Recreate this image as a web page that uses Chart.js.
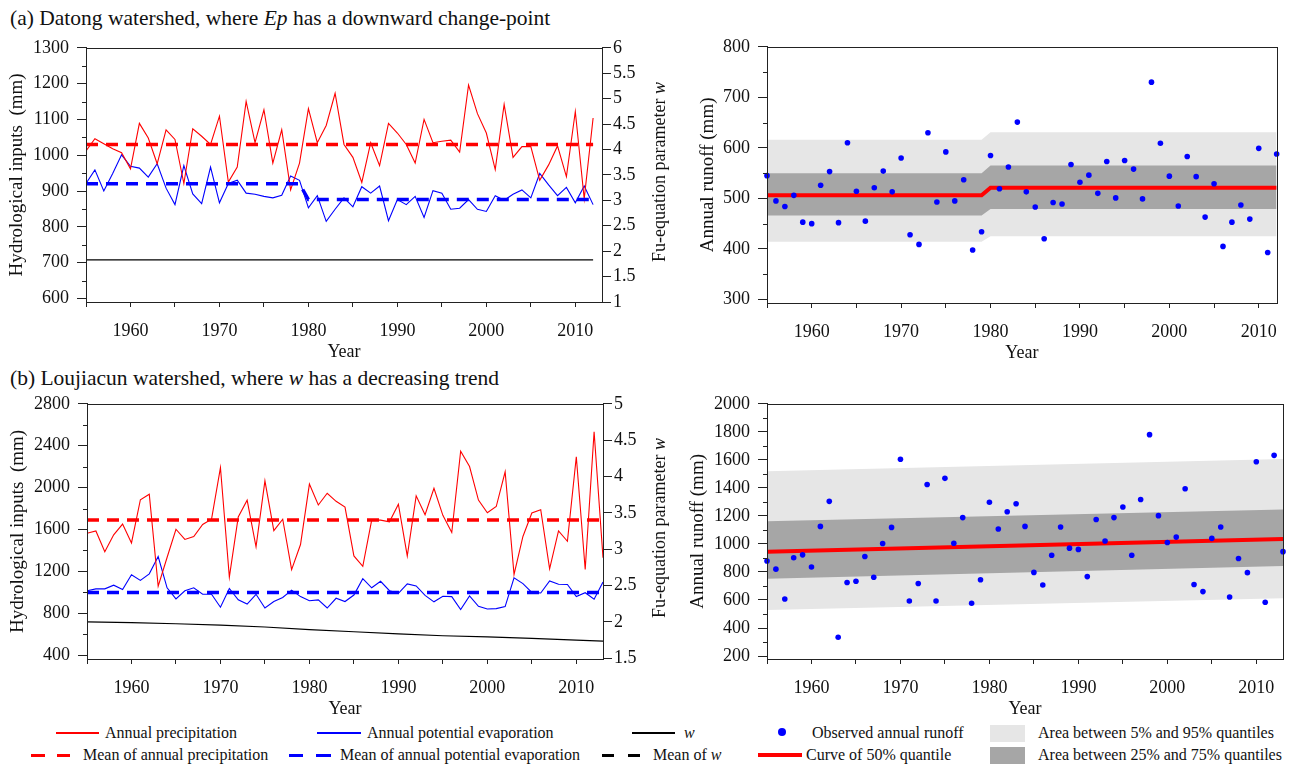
<!DOCTYPE html>
<html>
<head>
<meta charset="utf-8">
<script src="https://cdn.jsdelivr.net/npm/chart.js@4.4.0/dist/chart.umd.min.js"></script>
<style>
  body { margin: 0; width: 1290px; height: 767px; background: #fff; position: relative; overflow: hidden;
         font-family: 'Liberation Serif', 'Times New Roman', serif; color: #111; }
  canvas { position: absolute; }
  .ttl { position: absolute; font-size: 21.5px; line-height: 22px; white-space: nowrap; }
  .rt { position: absolute; font-size: 18px; line-height: 20px; white-space: nowrap; transform: translate(-50%, -50%) rotate(-90deg); }
  .lg { position: absolute; font-size: 16px; line-height: 18px; white-space: nowrap; }
  .mk { position: absolute; }
</style>
</head>
<body>

<div class="ttl" style="left:10px; top:7px;">(a) Datong watershed, where <i>Ep</i> has a downward change-point</div>
<div class="ttl" style="left:10px; top:366.5px;">(b) Loujiacun watershed, where <i>w</i> has a decreasing trend</div>

<canvas id="tl" width="650" height="334" style="left:0px; top:29px;"></canvas>
<canvas id="tr" width="610" height="336" style="left:680px; top:28px;"></canvas>
<canvas id="bl" width="651" height="335" style="left:0px; top:385px;"></canvas>
<canvas id="br" width="610" height="335" style="left:680px; top:385px;"></canvas>

<div class="rt" style="left:659px; top:172px;">Fu-equation parameter <i>w</i></div>
<div class="rt" style="left:659px; top:528px;">Fu-equation parameter <i>w</i></div>

<!-- legend -->
<div class="mk" style="left:56px; top:732px; width:43px; height:1.5px; background:#ff0000;"></div>
<div class="lg" style="left:105px; top:724px;">Annual precipitation</div>
<div class="mk" style="left:317px; top:732px; width:44px; height:1.5px; background:#0000ff;"></div>
<div class="lg" style="left:367px; top:724px;">Annual potential evaporation</div>
<div class="mk" style="left:632px; top:732px; width:43px; height:1.5px; background:#000;"></div>
<div class="lg" style="left:684px; top:724px;"><i>w</i></div>
<div class="mk" style="left:778px; top:728px; width:8px; height:8px; border-radius:50%; background:#0000ff;"></div>
<div class="lg" style="left:812px; top:724px;">Observed annual runoff</div>
<div class="mk" style="left:990px; top:725px; width:35px; height:17px; background:#e6e6e6;"></div>
<div class="lg" style="left:1038px; top:724px;">Area between 5% and 95% quantiles</div>

<div class="mk" style="left:31px; top:754px; width:14px; height:3px; background:#ff0000;"></div>
<div class="mk" style="left:57px; top:754px; width:13px; height:3px; background:#ff0000;"></div>
<div class="lg" style="left:83px; top:746px;">Mean of annual precipitation</div>
<div class="mk" style="left:289px; top:754px; width:14px; height:3px; background:#0000ff;"></div>
<div class="mk" style="left:316px; top:754px; width:15px; height:3px; background:#0000ff;"></div>
<div class="lg" style="left:340px; top:746px;">Mean of annual potential evaporation</div>
<div class="mk" style="left:602px; top:754px; width:12px; height:3px; background:#000;"></div>
<div class="mk" style="left:628px; top:754px; width:12px; height:3px; background:#000;"></div>
<div class="lg" style="left:653px; top:746px;">Mean of <i>w</i></div>
<div class="mk" style="left:758px; top:753px; width:44px; height:4px; background:#ff0000;"></div>
<div class="lg" style="left:806px; top:746px;">Curve of 50% quantile</div>
<div class="mk" style="left:990px; top:747px; width:35px; height:17px; background:#a6a6a6;"></div>
<div class="lg" style="left:1038px; top:746px;">Area between 25% and 75% quantiles</div>

<script>
// ---- data, (a) Datong ----
const yearsA = [1955, 1956, 1957, 1958, 1959, 1960, 1961, 1962, 1963, 1964,
  1965, 1966, 1967, 1968, 1969, 1970, 1971, 1972, 1973, 1974,
  1975, 1976, 1977, 1978, 1979, 1980, 1981, 1982, 1983, 1984,
  1985, 1986, 1987, 1988, 1989, 1990, 1991, 1992, 1993, 1994,
  1995, 1996, 1997, 1998, 1999, 2000, 2001, 2002, 2003, 2004,
  2005, 2006, 2007, 2008, 2009, 2010, 2011, 2012];
const precipA = [1012, 1046, 1032, 1018, 1007, 962, 1089, 1048, 976, 1071,
  1044, 921, 1074, 1053, 1030, 1109, 925, 967, 1150, 1035,
  1127, 978, 1071, 903, 978, 1130, 1035, 1083, 1173, 1030,
  994, 924, 1035, 971, 1089, 1062, 1030, 978, 1100, 1035,
  1039, 1042, 1009, 1196, 1116, 1062, 960, 1142, 994, 1024,
  1024, 930, 973, 1026, 940, 1122, 878, 1104];
const epA = [921, 959, 900, 949, 1001, 969, 964, 939, 976, 908,
  862, 971, 892, 865, 967, 867, 921, 930, 894, 891,
  885, 881, 888, 942, 930, 853, 887, 815, 849, 881,
  856, 912, 894, 914, 817, 876, 862, 885, 826, 901,
  894, 849, 852, 876, 849, 843, 887, 874, 891, 903,
  881, 949, 917, 887, 910, 867, 914, 862];
const precipMeanYearsA = [1955, 2012];
const precipMeanA = [1030, 1030];
const epMeanYearsA = [1955, 1979, 1980, 2012];
const epMeanA = [920, 920, 876, 876];
const wYearsA = [1955, 2012];
const wA = [1.83, 1.83];

const runoffA = [545, 495, 484, 506, 453, 450, 526, 553, 452, 610,
  514, 455, 521, 554, 513, 580, 428, 409, 630, 493,
  592, 495, 537, 398, 434, 585, 519, 562, 651, 513,
  483, 420, 492, 489, 567, 532, 546, 510, 573, 501,
  575, 558, 499, 730, 609, 544, 485, 583, 543, 463,
  529, 405, 453, 487, 459, 599, 393, 588];
const qYearsA = [1955, 1979, 1980, 2012];
const q05A = [414, 414, 425, 425];
const q25A = [466, 466, 479, 479];
const q50A = [506, 506, 521, 521];
const q75A = [550, 550, 565, 565];
const q95A = [616, 616, 631, 631];

// ---- data, (b) Loujiacun ----
const yearsB = [...yearsA, 2013];
const precipB = [1564, 1586, 1387, 1549, 1651, 1471, 1884, 1937, 1058, 1332,
  1602, 1505, 1533, 1648, 1698, 2191, 1145, 1720, 1880, 1434,
  2064, 1589, 1698, 1217, 1456, 2033, 1834, 1946, 1869, 1813,
  1347, 1248, 1689, 1689, 1673, 1841, 1347, 1921, 1741, 1993,
  1735, 1571, 2347, 2201, 1881, 1760, 1819, 2151, 1170, 1533,
  1757, 1788, 1223, 1586, 1487, 2294, 1217, 2533, 1330];
const epB = [1015, 1033, 1033, 1068, 1027, 1167, 1114, 1176, 1341, 1043,
  937, 1015, 1043, 981, 981, 857, 1037, 928, 888, 981,
  850, 912, 950, 1021, 959, 919, 928, 850, 943, 912,
  974, 1130, 1043, 1105, 1015, 990, 1080, 1061, 971, 909,
  962, 959, 835, 965, 866, 841, 844, 863, 1139, 1083,
  999, 993, 1108, 1077, 1074, 959, 996, 934, 1099];
const meanYearsB = [1955, 2013];
const precipMeanB = [1690, 1690];
const epMeanB = [997, 997];
const wYearsB = [1955, 1960, 1965, 1970, 1975, 1980, 1985, 1990, 1995, 2000, 2005, 2010, 2013];
const wB = [2.0, 1.99, 1.975, 1.955, 1.93, 1.895, 1.865, 1.835, 1.81, 1.795, 1.775, 1.75, 1.735];

const runoffB = [878, 820, 607, 901, 922, 836, 1125, 1304, 334, 725,
  734, 910, 762, 1003, 1118, 1604, 593, 718, 1424, 593,
  1468, 1005, 1188, 577, 744, 1297, 1107, 1230, 1287, 1125,
  797, 707, 919, 1121, 970, 961, 767, 1174, 1021, 1188,
  1264, 919, 1317, 1780, 1202, 1010, 1049, 1394, 711, 660,
  1040, 1121, 621, 896, 795, 1586, 584, 1632, 945];
const qYearsB = [1955, 2013];
const q05B = [528, 612];
const q25B = [751, 843];
const q50B = [945, 1035];
const q75B = [1162, 1246];
const q95B = [1519, 1607];

// ---- tick labels ----
const xTicks = [1955, 1960, 1965, 1970, 1975, 1980, 1985, 1990, 1995, 2000, 2005, 2010];
const tlTicks = [600, 700, 800, 900, 1000, 1100, 1200, 1300];
const tlRightTicks = [1, 1.5, 2, 2.5, 3, 3.5, 4, 4.5, 5, 5.5, 6];
const trTicks = [300, 400, 500, 600, 700, 800];
const blTicks = [400, 800, 1200, 1600, 2000, 2400, 2800];
const blRightTicks = [1.5, 2, 2.5, 3, 3.5, 4, 4.5, 5];
const brTicks = [200, 400, 600, 800, 1000, 1200, 1400, 1600, 1800, 2000];

const SERIF = "'Liberation Serif', 'Times New Roman', serif";
Chart.defaults.font.family = SERIF;
Chart.defaults.font.size = 18;
Chart.defaults.color = '#111';
const AX = '#222';

const pts = (xs, ys) => xs.map((x, i) => ({ x: x, y: ys[i] }));

// box round the plot + short minor ticks
const frame = {
  id: 'frame',
  afterDraw(chart, args, opts) {
    const { ctx, chartArea: a } = chart;
    ctx.save();
    ctx.strokeStyle = AX;
    ctx.lineWidth = 1;
    ctx.strokeRect(Math.round(a.left) + 0.5, Math.round(a.top) + 0.5,
      Math.round(a.right - a.left), Math.round(a.bottom - a.top));
    const minor = opts.minor || {};
    Object.keys(minor).forEach(id => {
      const s = chart.scales[id], m = minor[id];
      for (let v = Math.ceil(s.min / m) * m; v <= s.max; v += m) {
        if (s.ticks.some(t => Math.abs(t.value - v) < 1e-6)) continue;
        const y = Math.round(s.getPixelForValue(v)) + 0.5;
        ctx.beginPath();
        if (s.position === 'left') { ctx.moveTo(a.left - 4, y); ctx.lineTo(a.left, y); }
        else { ctx.moveTo(a.right, y); ctx.lineTo(a.right + 4, y); }
        ctx.stroke();
      }
    });
    ctx.restore();
  }
};

function xAxis(max) {
  return {
    type: 'linear', position: 'bottom', min: 1955, max: max,
    afterBuildTicks: s => { s.ticks = xTicks.map(v => ({ value: v })); },
    afterFit: s => { s.height = 61; },
    grid: { drawOnChartArea: false, tickLength: 5, tickColor: AX },
    border: { color: AX, width: 1 },
    ticks: { padding: 13, autoSkip: false, maxRotation: 0, font: { family: SERIF, size: 18 },
             callback: v => (v % 10 === 0 ? String(v) : '') },
    title: { display: true, text: 'Year', padding: 0, font: { family: SERIF, size: 18 } }
  };
}

function yAxis(pos, min, max, ticks, width, title, titlePad, labelPad) {
  return {
    type: 'linear', position: pos, min: min, max: max,
    afterBuildTicks: s => { s.ticks = ticks.map(v => ({ value: v })); },
    afterFit: s => { s.width = width; },
    grid: { drawOnChartArea: false, tickLength: 9, tickColor: AX },
    border: { color: AX, width: 1 },
    ticks: { padding: labelPad, autoSkip: false, font: { family: SERIF, size: 18 }, callback: v => String(v) },
    title: title ? { display: true, text: title, padding: { top: titlePad, bottom: titlePad }, font: { family: SERIF, size: 19 } }
                 : { display: false }
  };
}

function baseOptions(scales, padRight, minor) {
  return {
    responsive: false, animation: false, events: [],
    layout: { padding: { top: 12, left: 0, right: padRight, bottom: 0 } },
    elements: { point: { radius: 0 }, line: { tension: 0 } },
    plugins: { legend: { display: false }, tooltip: { enabled: false }, frame: { minor: minor } },
    scales: scales
  };
}

function inputSets(years, precip, ep, pmYears, pm, emYears, em, wYears, w) {
  return [
    { data: pts(pmYears, pm), borderColor: '#ff0000', borderWidth: 3.5, borderDash: [12, 8], yAxisID: 'y' },
    { data: pts(emYears, em), borderColor: '#0000ff', borderWidth: 3.5, borderDash: [12, 8], yAxisID: 'y' },
    { data: pts(wYears, w), borderColor: '#000000', borderWidth: 1.2, yAxisID: 'y2' },
    { data: pts(years, precip), borderColor: '#ff0000', borderWidth: 1.1, yAxisID: 'y' },
    { data: pts(years, ep), borderColor: '#0000ff', borderWidth: 1.1, yAxisID: 'y' }
  ];
}

function runoffSets(years, runoff, qYears, q05, q25, q50, q75, q95) {
  const none = 'rgba(0,0,0,0)';
  return [
    { data: pts(years, runoff), showLine: false, pointRadius: 2.8, pointBackgroundColor: '#0000ff',
      pointBorderWidth: 0, borderColor: none, clip: false },
    { data: pts(qYears, q50), borderColor: '#ff0000', borderWidth: 4 },
    { data: pts(qYears, q25), borderColor: none, borderWidth: 0 },
    { data: pts(qYears, q75), borderColor: none, borderWidth: 0, fill: '-1', backgroundColor: '#a6a6a6' },
    { data: pts(qYears, q05), borderColor: none, borderWidth: 0 },
    { data: pts(qYears, q95), borderColor: none, borderWidth: 0, fill: '-1', backgroundColor: '#e6e6e6' }
  ];
}

function drawAll() {
  // (a) left
  new Chart(document.getElementById('tl'), {
    type: 'line',
    data: { datasets: inputSets(yearsA, precipA, epA, precipMeanYearsA, precipMeanA, epMeanYearsA, epMeanA, wYearsA, wA) },
    options: baseOptions({
      x: xAxis(2013),
      y: yAxis('left', 590, 1300, tlTicks, 86, 'Hydrological inputs  (mm)', 6, 8),
      y2: yAxis('right', 1, 6, tlRightTicks, 48, null, 0, 2)
    }, 0, { y: 50 }),
    plugins: [frame]
  });

  // (a) right
  new Chart(document.getElementById('tr'), {
    type: 'line',
    data: { datasets: runoffSets(yearsA, runoffA, qYearsA, q05A, q25A, q50A, q75A, q95A) },
    options: baseOptions({
      x: xAxis(2012),
      y: yAxis('left', 293, 800, trTicks, 87, 'Annual runoff (mm)', 16.5, 8)
    }, 7, { y: 50 }),
    plugins: [frame]
  });

  // (b) left
  new Chart(document.getElementById('bl'), {
    type: 'line',
    data: { datasets: inputSets(yearsB, precipB, epB, meanYearsB, precipMeanB, meanYearsB, epMeanB, wYearsB, wB) },
    options: baseOptions({
      x: xAxis(2013),
      y: yAxis('left', 363, 2800, blTicks, 87, 'Hydrological inputs  (mm)', 7, 8),
      y2: yAxis('right', 1.49, 5, blRightTicks, 48, null, 0, 2)
    }, 0, { y: 200 }),
    plugins: [frame]
  });

  // (b) right
  new Chart(document.getElementById('br'), {
    type: 'line',
    data: { datasets: runoffSets(yearsB, runoffB, qYearsB, q05B, q25B, q50B, q75B, q95B) },
    options: baseOptions({
      x: xAxis(2013),
      y: yAxis('left', 179, 2000, brTicks, 87, 'Annual runoff (mm)', 6.5, 8)
    }, 7, { y: 100 }),
    plugins: [frame]
  });
}

// make sure the serif face is ready before the canvases are painted
if (document.fonts && document.fonts.load) {
  Promise.all([
    document.fonts.load("18px 'Liberation Serif'"),
    document.fonts.load("italic 18px 'Liberation Serif'")
  ]).then(drawAll, drawAll);
} else {
  drawAll();
}
</script>
</body>
</html>
